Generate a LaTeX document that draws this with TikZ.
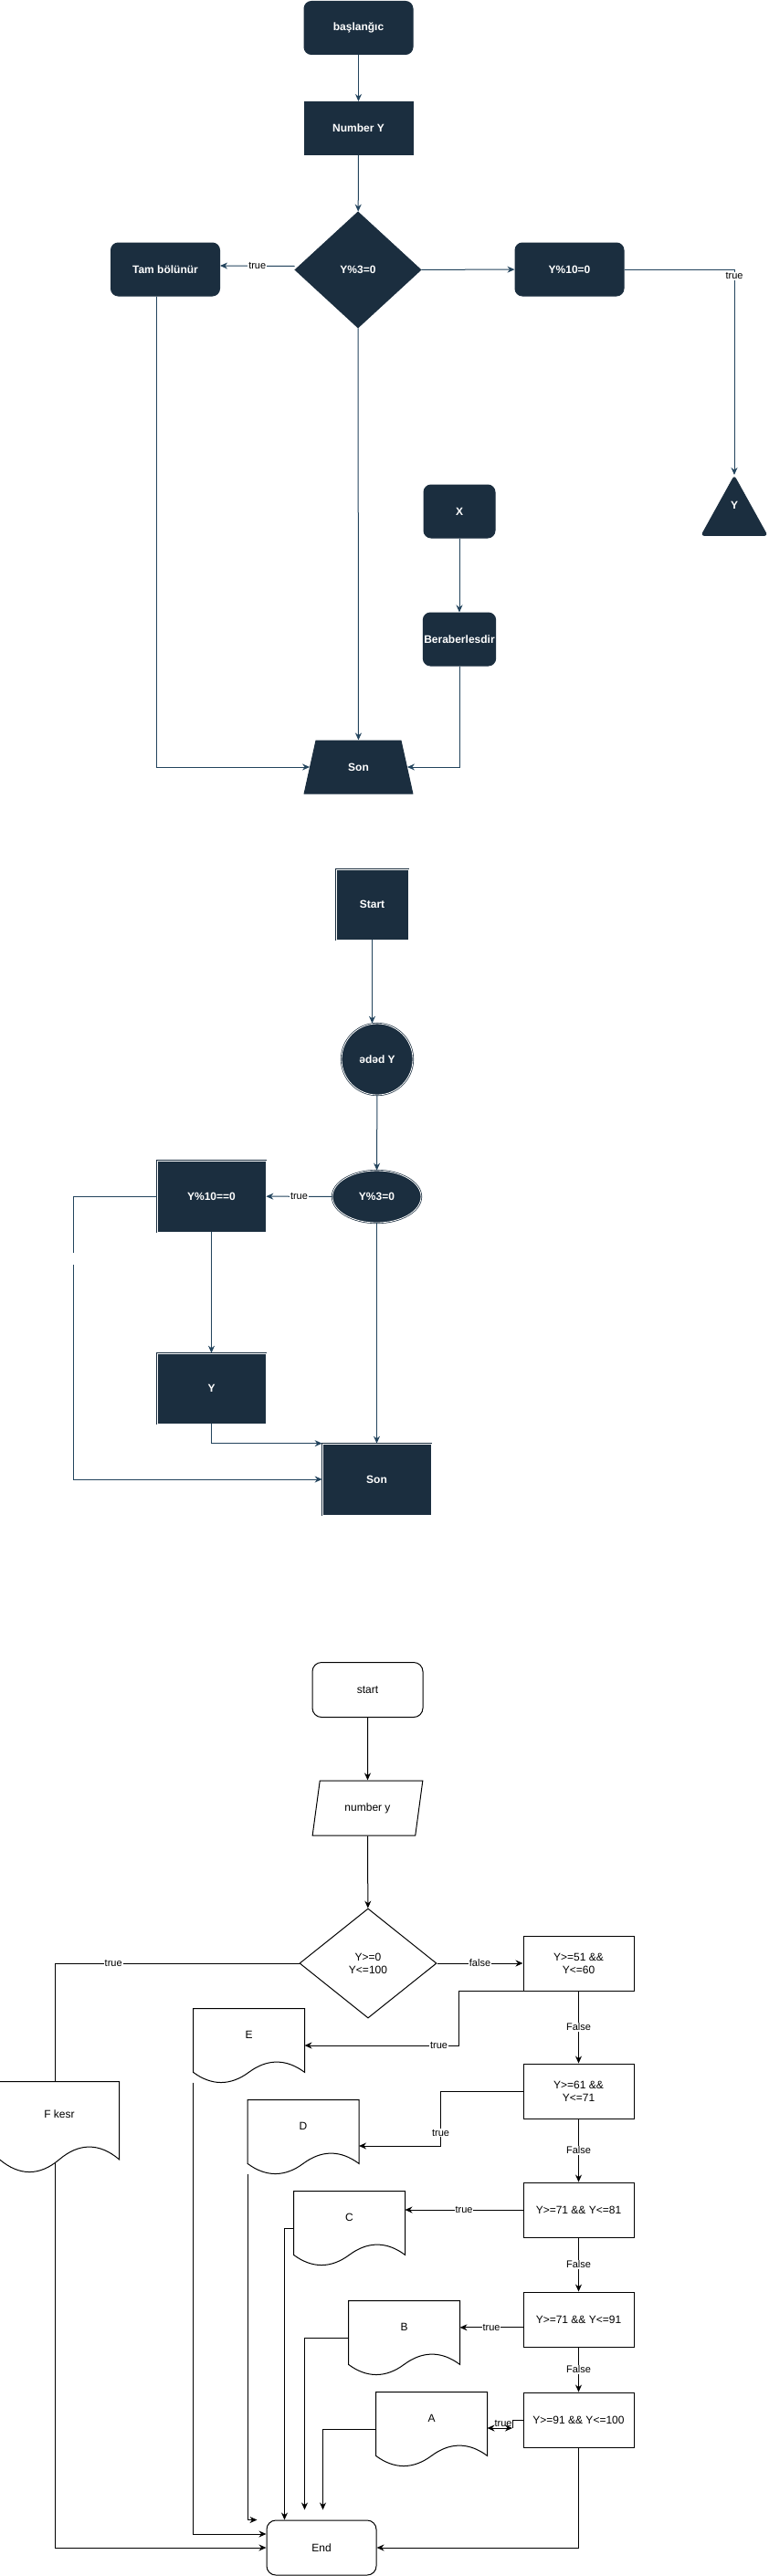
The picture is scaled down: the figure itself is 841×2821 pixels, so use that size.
\documentclass[tikz,border=0pt]{standalone}
\usepackage{fontspec}
\setmainfont{Liberation Sans}
\usetikzlibrary{shapes.geometric,arrows.meta}
\definecolor{dk}{HTML}{1B2E3F}
\definecolor{ln}{HTML}{23445D}

\begin{document}
\begin{tikzpicture}[x=1pt,y=-1pt,line width=1pt,
dark/.style={draw=dk,fill=dk,text=white,font=\bfseries\fontsize{12}{14}\selectfont,inner sep=1pt},
drect/.style={dark,rectangle,minimum width=119pt,minimum height=58pt},
dround/.style={drect,rounded corners=8pt},
dbl/.style={dark,double=white,double distance=0.8pt,line width=0.7pt,minimum width=119pt,minimum height=78pt},
wbox/.style={draw=black,fill=white,font=\fontsize{12}{14}\selectfont,minimum width=121pt,minimum height=60pt,inner sep=1pt,align=center},
doc/.style 2 args={rectangle,inner sep=1pt,minimum width=#1,minimum height=0.72*#2,font=\fontsize{12}{14}\selectfont,
  append after command={\pgfextra{\draw[black,line width=1pt] (\tikzlastnode.north west) -- (\tikzlastnode.north east) -- ([yshift=-0.14*#2]\tikzlastnode.south east) .. controls ([xshift=-#1/6,yshift=0.047*#2]\tikzlastnode.south east) and ([xshift=#1/6,yshift=0.047*#2]\tikzlastnode.south) .. ([yshift=-0.14*#2]\tikzlastnode.south) .. controls ([xshift=-#1/6,yshift=-0.327*#2]\tikzlastnode.south) and ([xshift=#1/6,yshift=-0.327*#2]\tikzlastnode.south west) .. ([yshift=-0.14*#2]\tikzlastnode.south west) -- cycle;}}},
darr/.style={draw=ln,-{Stealth[length=8pt,width=7pt]}},
arr/.style={draw=black,-{Stealth[length=8pt,width=7pt]}},
lbl/.style={fill=white,text=black,inner sep=1pt,font=\fontsize{11}{13}\selectfont},
gap/.style={fill=white,inner sep=0pt,minimum width=4pt,minimum height=13pt}]
\useasboundingbox (0,0) rectangle (841,2821);

\node[dround] at (392.5,30.5) (b0) {başlanğıc};
\node[drect] at (392.5,140.5) (b1) {Number Y};
\node[dark,diamond,minimum width=138pt,minimum height=127pt] at (392,295.5) (b2) {Y\%3=0};
\node[dround] at (181,295) (b3) {Tam bölünür};
\node[dround] at (623.5,295) (b4) {Y\%10=0};
\node[dark,isosceles triangle,isosceles triangle stretches,shape border rotate=90,minimum width=72pt,minimum height=65pt,rounded corners=3pt,inner sep=0pt,anchor=apex] at (804,520) (b5) {\raisebox{10pt}[0pt][0pt]{Y}};
\node[dround,minimum width=78pt] at (503,560) (b6) {X};
\node[dround,minimum width=78pt] at (503,700) (b7) {Beraberlesdir};
\node[dark,trapezium,trapezium left angle=72,trapezium right angle=72,trapezium stretches=true,minimum width=119pt,minimum height=58pt] at (392.5,840) (b8) {Son};

\draw[darr] (b0) -- (b1);
\draw[darr] (b1) -- (b2);
\draw[darr] ([yshift=4pt]b2.west) -- node[lbl] {true} ([yshift=4pt]b3.east);
\draw[darr] (b2) -- (b4);
\draw[darr] (b4.east) -| node[lbl,pos=0.516] {true} (b5.apex);
\draw[darr] ([xshift=-10pt]b3.south) |- (b8.west);
\draw[darr] (b2) -- (b8);
\draw[darr] (b6) -- (b7);
\draw[darr] (b7.south) |- (b8.east);

\node[dbl,minimum width=79pt,minimum height=77pt] at (407.5,990.5) (c0) {Start};
\node[dbl,circle,minimum size=78pt] at (413,1160) (c1) {ədəd Y};
\node[dbl,ellipse,minimum width=97pt,minimum height=57pt] at (412.5,1310.5) (c2) {Y\%3=0};
\node[dbl] at (231.5,1310) (c3) {Y\%10==0};
\node[dbl,minimum height=77pt] at (231.5,1520.5) (c4) {Y};
\node[dbl] at (412.5,1620) (c5) {Son};

\draw[darr] (c0.south) -- (c0.south |- c1.north);
\draw[darr] (c1) -- (c2);
\draw[darr] (c2) -- node[lbl] {true} (c3);
\draw[darr] (c3) -- (c4);
\draw[darr] (c4.south) |- (c5.north west);
\draw[darr] (c2) -- (c5);
\draw[darr] (c3.west) -- ++(-91,0) |- node[gap,pos=0.11] {} (c5.west);

\node[wbox,rounded corners=10pt] at (402.5,1850.5) (s0) {start};
\node[wbox,trapezium,trapezium left angle=73,trapezium right angle=107,trapezium stretches=true] at (402.5,1980) (s1) {number y};
\node[wbox,diamond,minimum width=150pt,minimum height=120pt] at (403,2150) (s2) {Y>=0\\Y<=100};
\node[wbox] at (633.5,2150) (r1) {Y>=51 \&\&\\Y<=60};
\node[wbox] at (633.5,2290) (r2) {Y>=61 \&\&\\Y<=71};
\node[wbox] at (633.5,2420) (r3) {Y>=71 \&\& Y<=81};
\node[wbox] at (633.5,2540) (r4) {Y>=71 \&\& Y<=91};
\node[wbox] at (633.5,2650) (r5) {Y>=91 \&\& Y<=100};
\node[doc={130pt}{98pt}] at (65,2315.3) (fk) {F kesr};
\node[doc={121pt}{80pt}] at (272.5,2228.8) (doce) {E};
\node[doc={121pt}{80pt}] at (332,2328.8) (docd) {D};
\node[doc={121pt}{80pt}] at (382.5,2428.8) (docc) {C};
\node[doc={121pt}{80pt}] at (442.5,2548.8) (docb) {B};
\node[doc={121pt}{80pt}] at (472.5,2648.8) (doca) {A};
\node[wbox,rounded corners=10pt,minimum width=120pt] at (352,2790) (s9) {End};
\coordinate (t5) at (561,2659);

\draw[arr] (s0) -- (s1);
\draw[arr] (s1) -- (s2);
\draw (s2.west) -| node[lbl,pos=0.38] {true} ([xshift=-5pt]fk.north);
\draw[arr] (s2) -- node[lbl] {false} (r1);
\draw[arr] (r1.south west) -- ++(-70,0) |- node[lbl,pos=0.565] {true} ([yshift=-11.2pt]doce.east);
\draw[arr] (r1) -- node[lbl] {False} (r2);
\draw[arr] (r2.west) -- ++(-90,0) |- node[lbl,pos=0.38] {true} ([yshift=-21.2pt]docd.east);
\draw[arr] (r2) -- node[lbl] {False} (r3);
\draw[arr] (r3.west) -- node[lbl] {true} (r3.west -| docc.east);
\draw[arr] (r3) -- node[lbl] {False} (r4);
\draw[arr] (r4.west |- docb.east) -- node[lbl] {true} (docb.east);
\draw[arr] (r4) -- node[lbl] {False} (r5);
\draw (r5.west) -| (t5);
\draw[{Stealth[length=8pt,width=7pt]}-{Stealth[length=8pt,width=7pt]}] (doca.east |- t5) -- node[lbl,fill=none,pos=0.64,yshift=5pt] {true} (t5);
\draw[arr] ([xshift=-5pt,yshift=-17pt]fk.south) |- (s9.west);
\draw[arr] ([yshift=-22.4pt]doce.south west) |- ([yshift=15pt]s9.west);
\draw[arr,shorten >=10pt] ([yshift=-22.4pt]docd.south west) |- (s9.north west);
\draw[arr] ([yshift=-11.2pt]docc.west) -| ([xshift=20pt]s9.north west);
\draw[arr,shorten >=11pt] ([yshift=-11.2pt]docb.west) -| ([xshift=42pt]s9.north west);
\draw[arr,shorten >=11pt] ([yshift=-11.2pt]doca.west) -| ([xshift=62pt]s9.north west);
\draw[arr] (r5.south) |- (s9.east);
\end{tikzpicture}
\end{document}
